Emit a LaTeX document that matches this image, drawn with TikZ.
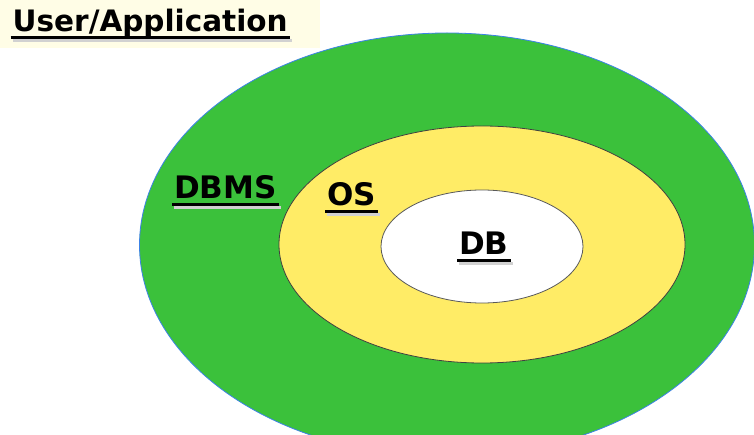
\documentclass[tikz,border=0pt]{standalone}
\usepackage{fontspec}
\setmainfont{DejaVu Sans}
\usepackage{tikz}
\usetikzlibrary{shapes.geometric}
\definecolor{dbmsgreen}{RGB}{59,193,59}
\definecolor{osyellow}{RGB}{255,236,102}
\definecolor{rimblue}{RGB}{60,130,230}
\definecolor{paper}{RGB}{255,253,230}
\tikzset{
  ring/.style={ellipse, draw, line width=0.8pt, inner sep=0pt},
  word/.style={inner sep=0pt, anchor=base west},
  uline/.style={line width=2.6pt},
}
% underlined label with a soft shadow under the rule: name, baseline start, size, text
\newcommand\ulabel[4]{%
  \node[word, font=\fontsize{#3}{#3}\selectfont\bfseries] (#1) at (#2) {#4};
  \draw[uline, black!18] ([xshift=0pt,yshift=-8.5pt]#1.base west) -- ([xshift=4pt,yshift=-8.5pt]#1.base east);
  \draw[uline] ([xshift=-2pt,yshift=-5.5pt]#1.base west) -- ([xshift=2pt,yshift=-5.5pt]#1.base east);
}

\begin{document}
\begin{tikzpicture}[x=1pt,y=-1pt]
  \useasboundingbox (0,0) rectangle (754,435);
  \begin{scope}
    \clip (0,0) rectangle (754,435);
    \node[ring, draw=rimblue, fill=dbmsgreen, minimum width=615, minimum height=424] (dbms) at (447,245) {};
    \node[ring, draw=black!75, fill=osyellow, minimum width=406, minimum height=237] (os) at (482,244.5) {};
    \node[ring, draw=black!65, fill=white, minimum width=202, minimum height=113] (db) at (482,246.5) {};
  \end{scope}
  \node[fill=paper, minimum width=320, minimum height=48, anchor=north west, inner sep=0pt] (box) at (0,0) {};
  \ulabel{user}{12.5,32}{29.5}{User/Application}
  \ulabel{dbmslbl}{174,199}{31}{DBMS}
  \ulabel{oslbl}{327,206}{31}{OS}
  \ulabel{dblbl}{459,255}{31}{DB}
\end{tikzpicture}
\end{document}
